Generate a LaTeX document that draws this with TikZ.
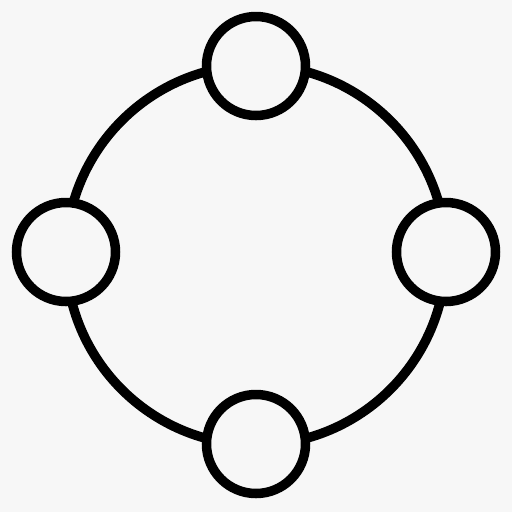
\documentclass[tikz,border=0pt]{standalone}
\definecolor{bg}{HTML}{F7F7F7}
\begin{document}
\begin{tikzpicture}[x=0.02cm,y=-0.02cm,
  ring/.style={draw=black,line width=9.5*0.02cm},
  dot/.style={circle,draw=black,fill=bg,line width=9.5*0.02cm,minimum size=99*0.02cm,inner sep=0pt}]
\fill[bg] (0,0) rectangle (512,512);
\useasboundingbox (0,0) rectangle (512,512);
\node[coordinate] (c) at (256,255) {};
\draw[ring] (c) circle[radius=190*0.02cm];
\node[dot] (t) at (256,66) {};
\node[dot] (b) at (256,444) {};
\node[dot] (l) at (66,252) {};
\node[dot] (r) at (446,252) {};
\end{tikzpicture}
\end{document}
